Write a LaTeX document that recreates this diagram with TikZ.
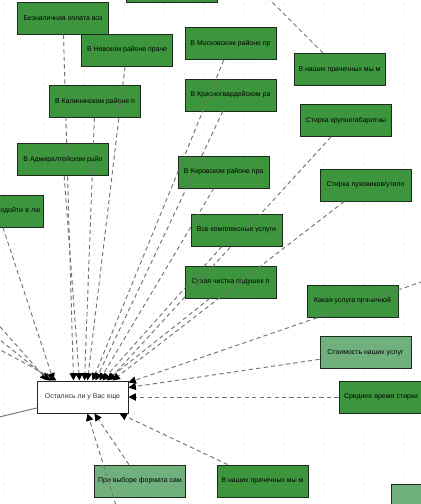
\documentclass[tikz,border=0pt]{standalone}
\usepackage{fontspec}
\setmainfont{Liberation Sans}
\usetikzlibrary{arrows.meta,calc}
\definecolor{gdark}{RGB}{61,150,61}
\definecolor{glight}{RGB}{112,176,124}
\definecolor{bord}{RGB}{28,44,28}
\definecolor{edgecol}{RGB}{115,115,115}
\definecolor{dotcol}{RGB}{205,205,205}
\tikzset{
  box/.style={draw=bord, line width=0.75pt, minimum width=68.25pt, minimum height=24pt,
    inner sep=0pt, font=\fontsize{5.2}{6}\selectfont, text=black},
  darkbox/.style={box, fill=gdark},
  lightbox/.style={box, fill=glight},
  centerbox/.style={box, fill=white, text=black!80},
  dep/.style={draw=edgecol, line width=0.7pt, dash pattern=on 3.2pt off 2.4pt,
    -{Triangle[length=5.5pt,width=5.5pt,color=black]}},
  depnoarrow/.style={draw=edgecol, line width=0.7pt, dash pattern=on 3.2pt off 2.4pt},
  solidlink/.style={draw=edgecol, line width=0.7pt}
}
\begin{document}
\begin{tikzpicture}[x=0.75pt,y=-0.75pt]
\useasboundingbox (0,0) rectangle (421,504);
\clip (0,0) rectangle (421,504);
\fill[white] (0,0) rectangle (421,504);
\foreach \i in {0,...,42}{
  \foreach \j in {0,...,50}{
    \fill[dotcol] (\i*10+4,\j*10+4) circle (0.4pt);
  }
}
% nodes
\node[darkbox] (n1) at (63,18) {Безналичная оплата воз};
\node[darkbox] (n2) at (127,50) {В Невском районе праче};
\node[darkbox] (n3) at (172,-14) {};
\node[darkbox] (n4) at (230.5,43.5) {В Московском районе пр};
\node[darkbox] (n5) at (339.5,69.5) {В наших прачечных мы м};
\node[darkbox] (n6) at (230.5,95) {В Красногвардейском ра};
\node[darkbox] (n7) at (346,120.5) {Стирка крупногабаритны};
\node[darkbox] (n8) at (95,101.5) {В Калининском районе п};
\node[darkbox] (n9) at (63,159.5) {В Адмиралтейском райо};
\node[darkbox, text width=64.5pt, align=right] (n10) at (-2.5,211) {одойти в лю};
\node[darkbox] (n11) at (223.5,172) {В Кировском районе пра};
\node[darkbox] (n12) at (365.5,185) {Стирка пуховиков/утепл};
\node[darkbox] (n13) at (236.5,230) {Все комплексные услуги};
\node[darkbox] (n14) at (230.5,282) {Сухая чистка подушек п};
\node[darkbox] (n15) at (352.5,301) {Какая услуга прачечной};
\node[lightbox] (n16) at (365.5,352.5) {Стоимость наших услуг};
\node[darkbox, text width=60.75pt, align=left] (n17) at (384.5,397) {Среднее время стирки};
\node[darkbox] (n18) at (262.5,481) {В наших прачечных мы м};
\node[lightbox] (n19) at (140,481) {При выборе формата сам};
\node[lightbox] (n20) at (436.5,500) {};
\node[centerbox] (C) at (82.5,397) {Остались ли у Вас еще};
% free ends
\coordinate (L1) at (-5,321);
\coordinate (L2) at (-5,336);
\coordinate (L3) at (-5,347);
\coordinate (R1) at (430,279);
\coordinate (B1) at (118,512);
\coordinate (T1) at (262,-8);
\coordinate (S1) at (-5,418);
% edges to top of central node
\draw[dep] (L1) -- ($(C.north west)+(11,0)$);
\draw[dep] (L2) -- ($(C.north west)+(14,0)$);
\draw[dep] (L3) -- ($(C.north west)+(20,0)$);
\draw[dep] (n10) -- ($(C.north west)+(17,0)$);
\draw[dep] (n1) -- ($(C.north west)+(37,0)$);
\draw[dep] (n9) -- ($(C.north west)+(43,0)$);
\draw[dep] (n8) -- ($(C.north west)+(48,0)$);
\draw[dep] (n2) -- ($(C.north west)+(51,0)$);
\draw[dep] (n4) -- ($(C.north west)+(56,0)$);
\draw[dep] (n6) -- ($(C.north west)+(59,0)$);
\draw[dep] (n11) -- ($(C.north west)+(63,0)$);
\draw[dep] (n13) -- ($(C.north west)+(66,0)$);
\draw[dep] (n14) -- ($(C.north west)+(70,0)$);
\draw[dep] (n7) -- ($(C.north west)+(72,0)$);
\draw[dep] (n12) -- ($(C.north west)+(76,0)$);
% right side
\draw[dep] (R1) -- ($(C.north east)+(0,2)$);
\draw[dep] (n16) -- ($(C.north east)+(0,7)$);
\draw[dep] (n17) -- (C);
% bottom
\draw[dep] (B1) -- ($(C.south west)+(51,0)$);
\draw[dep] (n19) -- ($(C.south west)+(58,0)$);
\draw[dep] (n18) -- ($(C.south west)+(83,0)$);
% others
\draw[depnoarrow] (n5) -- (T1);
\draw[solidlink] (C) -- (S1);
\end{tikzpicture}
\end{document}
